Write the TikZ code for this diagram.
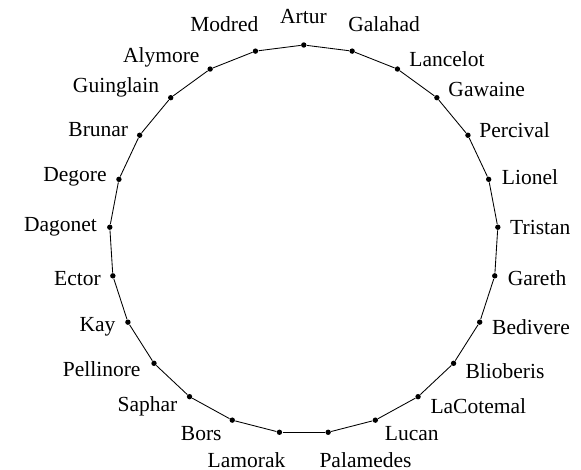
\documentclass[tikz,border=0pt]{standalone}
\usepackage{fontspec}
\setmainfont{Liberation Serif}
\usepackage{tikz}

\begin{document}
\begin{tikzpicture}[
    x=0.465pt, y=0.465pt,
    seat/.style={circle, fill, inner sep=0pt, minimum size=2.5pt},
    knight/.style={anchor=base, inner sep=0pt, font=\rmfamily}
]
    \useasboundingbox (-303.8,-229.6) rectangle (277.2,239.4);
    % seats around the table, labels placed by hand
    \foreach \who/\lx/\ly [count=\i from 0] in {
        Artur/-0.3/216.1, Galahad/80.3/207.7, Lancelot/143.2/173.4,
        Gawaine/182.9/142.7, Percival/210.9/102.1, Lionel/226.2/55.4,
        Tristan/236.5/5.1, Gareth/233.2/-45.6, Bedivere/227.2/-94.9,
        Blioberis/201.2/-138.9, LaCotemal/174.5/-173.9, Lucan/108/-200.6,
        Palamedes/61.7/-227.9, Lamorak/-57.3/-227.9, Bors/-102.5/-200.6,
        Saphar/-156.3/-172.3, Pellinore/-202.1/-137.3, Kay/-206.3/-92.3,
        Ector/-226.3/-45.6, Dagonet/-243.3/7.7, Degore/-228.8/57.7,
        Brunar/-205.5/102.7, Guinglain/-187.8/147.1, Alymore/-142.5/176.7,
        Modred/-79.5/207.7}{
        \node[seat] (k\i) at ({90-14.4*\i}:194.4) {};
        \node[knight] (n\i) at (\lx,\ly) {\who};
    }
    % the table
    \foreach \i [remember=\i as \j (initially 24)] in {0,...,24}
        \draw (k\j) -- (k\i);
\end{tikzpicture}
\end{document}
